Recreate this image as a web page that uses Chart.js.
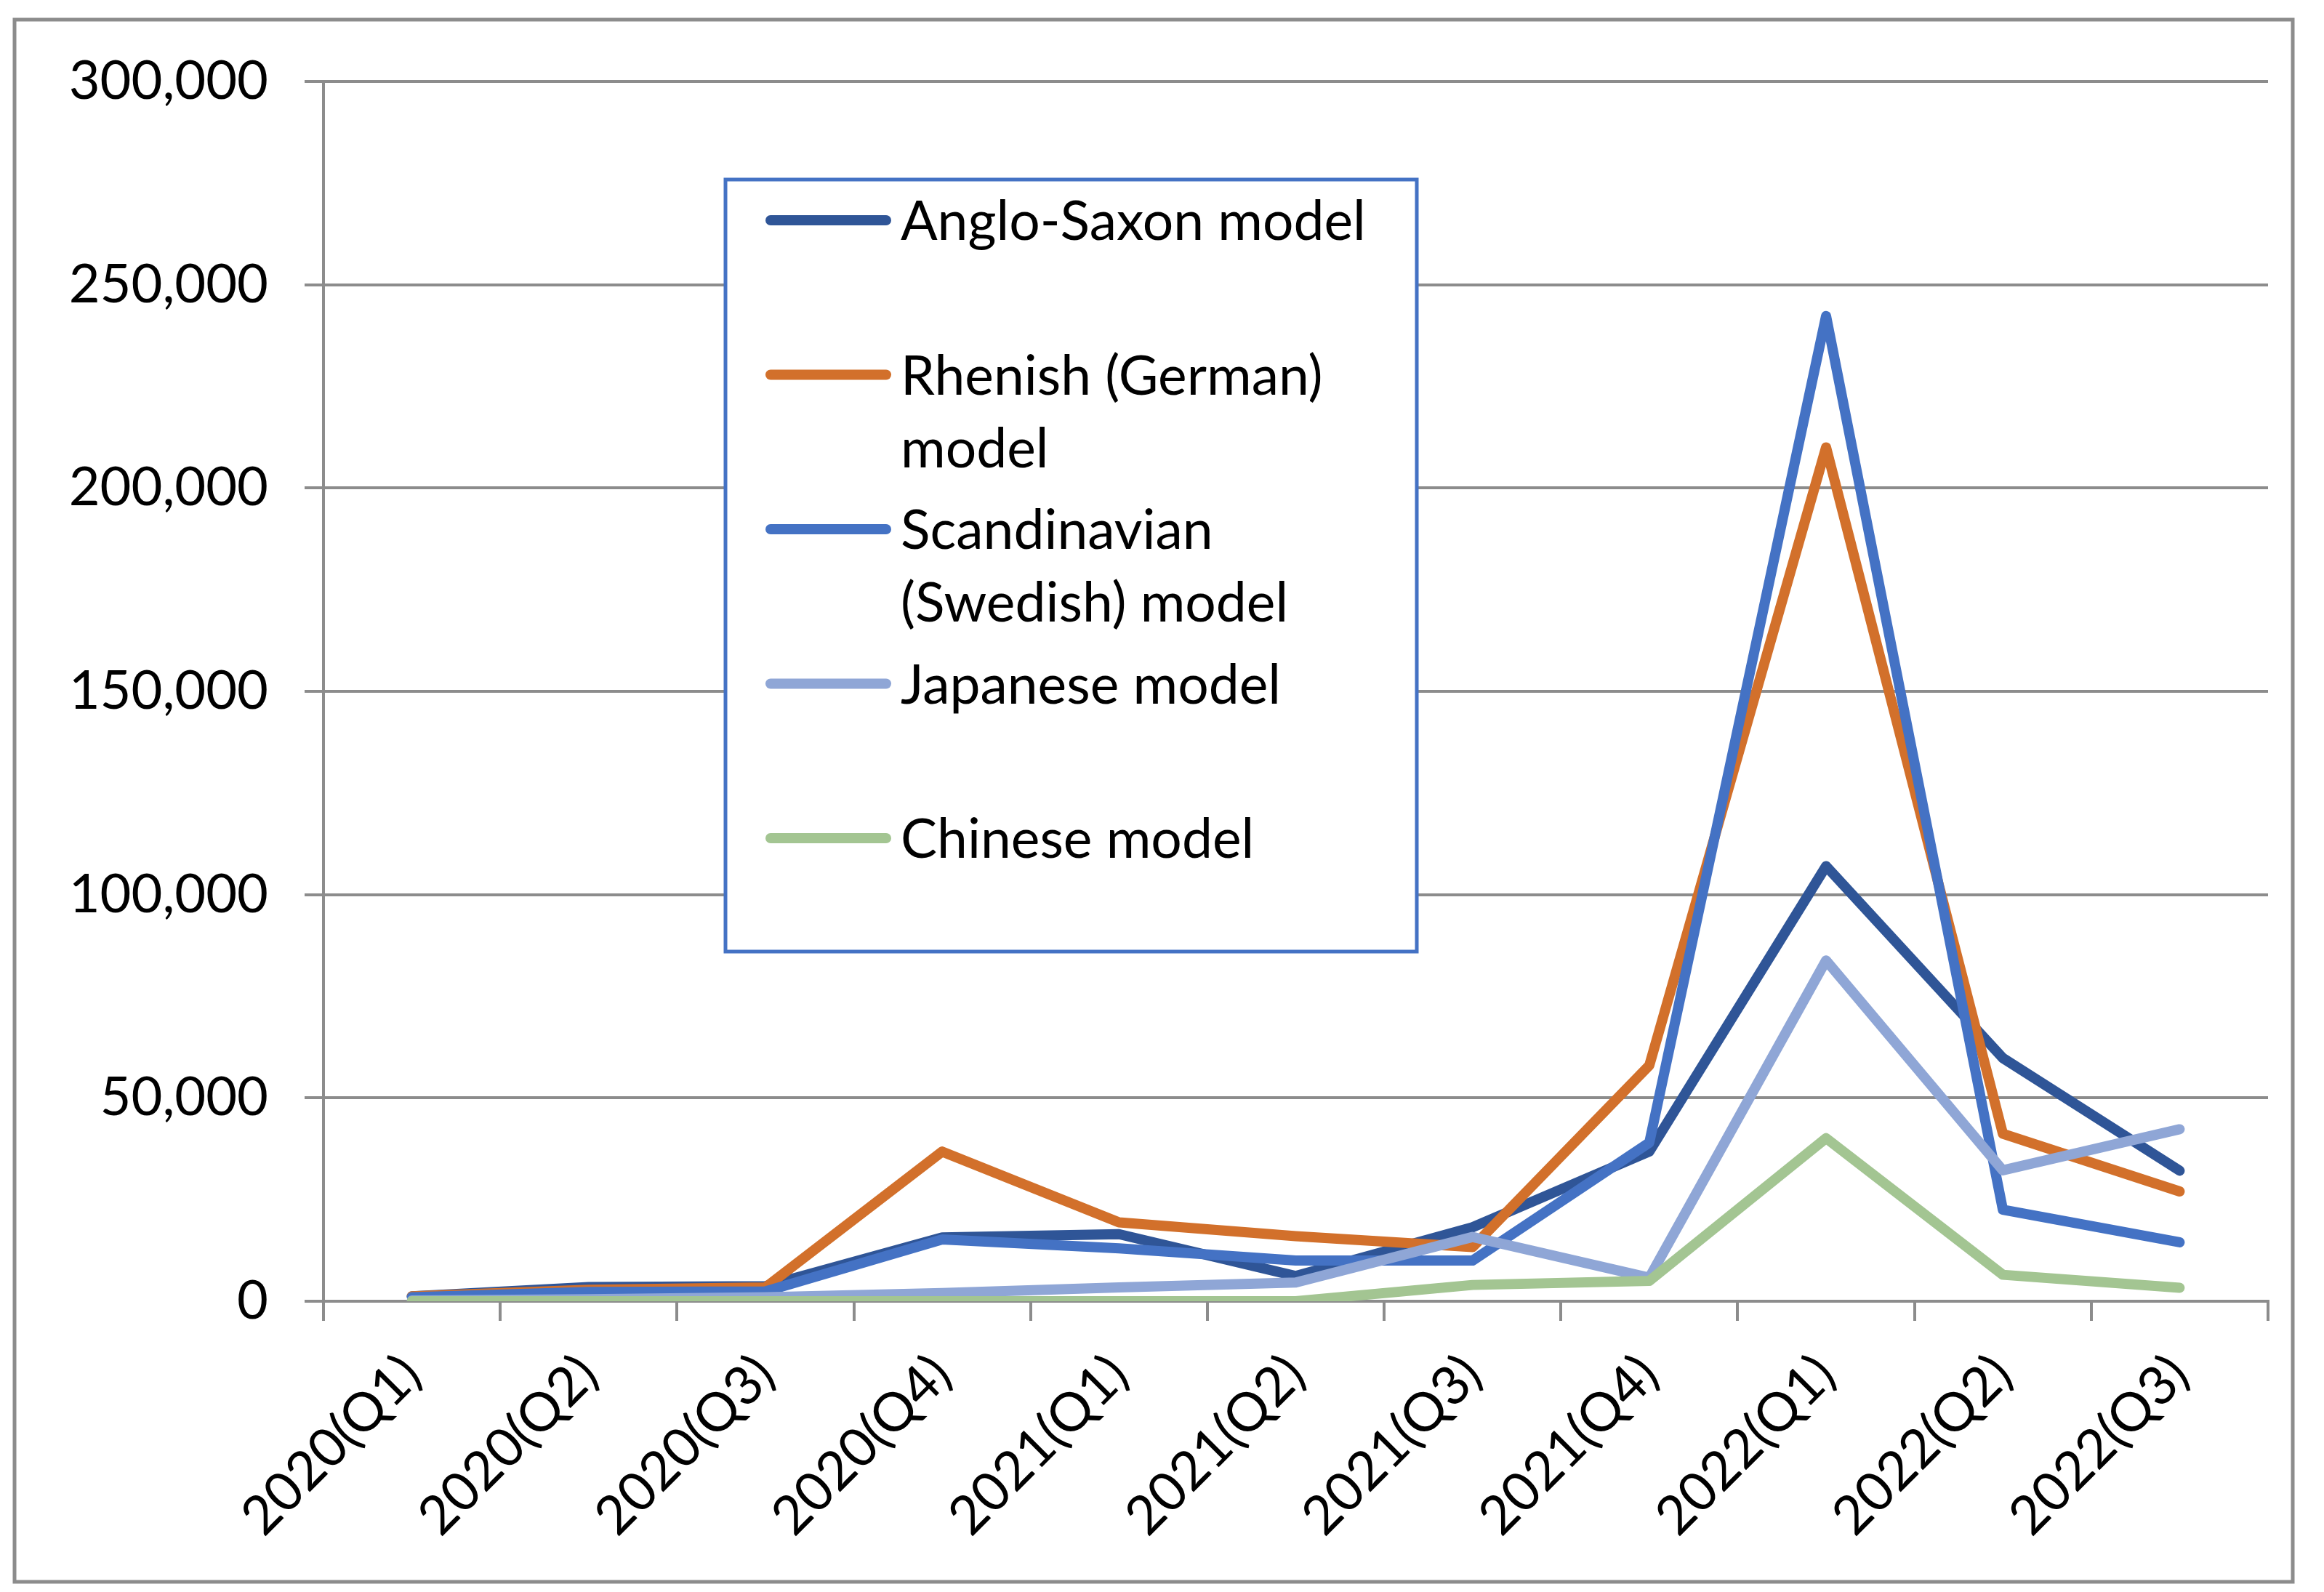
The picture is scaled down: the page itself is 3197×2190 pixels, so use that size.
<!DOCTYPE html>
<html>
<head>
<meta charset="utf-8">
<script src="https://cdn.jsdelivr.net/npm/chart.js@4/dist/chart.umd.min.js"></script>
<style>
html,body{margin:0;padding:0;background:#ffffff;}
#wrap{position:relative;width:3197px;height:2190px;}
</style>
</head>
<body>
<div id="wrap"><canvas id="c" width="3197" height="2190"></canvas></div>
<script>
const categories = ['2020(Q1)','2020(Q2)','2020(Q3)','2020(Q4)','2021(Q1)','2021(Q2)','2021(Q3)','2021(Q4)','2022(Q1)','2022(Q2)','2022(Q3)'];
const angloSaxon   = [1200, 3500, 3700, 15700, 16500, 6200, 18200, 36800, 107000, 59800, 32100];
const rhenish      = [1200, 2800, 3400, 36800, 19400, 16000, 13300, 58000, 210000, 41200, 27000];
const scandinavian = [1000, 2300, 2400, 15200, 13000, 10000, 10000, 39000, 242300, 22500, 14500];
const japanese     = [200, 500, 1000, 2000, 3400, 4600, 15800, 5800, 83800, 32200, 42300];
const chinese      = [0, 0, 0, 0, 0, 0, 4000, 5000, 40100, 6500, 3300];
const seriesNames  = ['Anglo-Saxon model', 'Rhenish (German) model', 'Scandinavian (Swedish) model', 'Japanese model', 'Chinese model'];
const seriesColors = ['#2F5597', '#D2702B', '#4472C4', '#8FA6D6', '#A3C592'];
const yTickValues  = [0, 50000, 100000, 150000, 200000, 250000, 300000];

const FONT = 'Lato';
const GRID = '#8C8C8C';

const frameAndLegend = {
  id: 'frameAndLegend',
  beforeDraw(chart) {
    const ctx = chart.ctx;
    ctx.save();
    ctx.fillStyle = '#ffffff';
    ctx.fillRect(0, 0, chart.width, chart.height);
    ctx.strokeStyle = GRID;
    ctx.lineWidth = 5;
    ctx.strokeRect(20, 27, 3134, 2149);
    ctx.restore();
  },
  afterDatasetsDraw(chart) {
    const ctx = chart.ctx;
    const box = {left: 998, top: 247, right: 1949, bottom: 1309};
    ctx.save();
    ctx.fillStyle = '#ffffff';
    ctx.fillRect(box.left, box.top, box.right - box.left, box.bottom - box.top);
    ctx.strokeStyle = '#4472C4';
    ctx.lineWidth = 5;
    ctx.strokeRect(box.left, box.top, box.right - box.left, box.bottom - box.top);
    ctx.font = '75px ' + FONT;
    ctx.textBaseline = 'alphabetic';
    ctx.textAlign = 'left';
    const textX = 1239, maxW = box.right - textX - 15;
    chart.data.datasets.forEach((ds, i) => {
      const y0 = 303 + i * 212.5;
      ctx.strokeStyle = ds.borderColor;
      ctx.lineWidth = 14;
      ctx.lineCap = 'round';
      ctx.beginPath();
      ctx.moveTo(1060, y0);
      ctx.lineTo(1219, y0);
      ctx.stroke();
      const words = ds.label.split(' ');
      const lines = [];
      let cur = '';
      words.forEach(w => {
        const t = cur ? cur + ' ' + w : w;
        if (cur && ctx.measureText(t).width > maxW) { lines.push(cur); cur = w; }
        else cur = t;
      });
      if (cur) lines.push(cur);
      ctx.fillStyle = '#000000';
      lines.forEach((ln, k) => ctx.fillText(ln, textX, y0 + 27 + k * 100));
    });
    ctx.restore();
  }
};

const seriesData = [angloSaxon, rhenish, scandinavian, japanese, chinese];

function build() {
  new Chart(document.getElementById('c'), {
    type: 'line',
    data: {
      labels: categories,
      datasets: seriesData.map((d, i) => ({
        label: seriesNames[i],
        data: d,
        borderColor: seriesColors[i],
        backgroundColor: seriesColors[i],
        borderWidth: 14,
        pointRadius: 0,
        tension: 0,
        fill: false,
        borderCapStyle: 'round',
        borderJoinStyle: 'round',
        order: seriesData.length - 1 - i
      }))
    },
    options: {
      responsive: false,
      devicePixelRatio: 1,
      animation: false,
      layout: {padding: {top: 112, right: 77, left: 0, bottom: 0}},
      plugins: {legend: {display: false}, tooltip: {enabled: false}, title: {display: false}},
      scales: {
        x: {
          type: 'category',
          offset: true,
          grid: {offset: true, drawOnChartArea: false, drawTicks: true, tickLength: 27, color: GRID, lineWidth: 4},
          border: {display: true, color: GRID, width: 4},
          ticks: {autoSkip: false, maxRotation: 45, minRotation: 45, color: '#000000', font: {family: FONT, size: 74}, padding: 30},
          afterFit: s => { s.height = 400; }
        },
        y: {
          min: 0,
          max: 300000,
          afterBuildTicks: s => { s.ticks = yTickValues.map(v => ({value: v})); },
          grid: {color: GRID, lineWidth: 4, drawTicks: true, tickLength: 26},
          border: {display: true, color: GRID, width: 4},
          ticks: {color: '#000000', font: {family: FONT, size: 74}, padding: 50,
                  callback: v => Number(v).toLocaleString('en-US')},
          afterFit: s => { s.width = 445; }
        }
      }
    },
    plugins: [frameAndLegend]
  });
}

if (document.fonts && document.fonts.load) {
  document.fonts.load('75px ' + FONT).then(build, build);
} else {
  build();
}
</script>
</body>
</html>
